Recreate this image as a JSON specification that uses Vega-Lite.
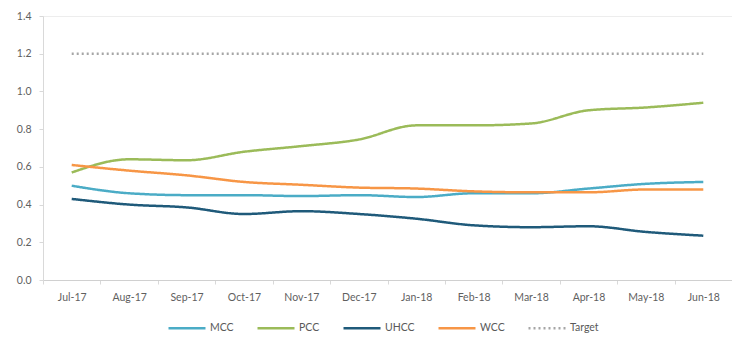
{
  "$schema": "https://vega.github.io/schema/vega-lite/v6.json",
  "autosize": {"type": "none"},
  "width": 689,
  "height": 264,
  "padding": {"left": 43, "top": 16, "right": 0, "bottom": 62},
  "background": "white",
  "config": {
    "view": {"stroke": "#ededed", "strokeWidth": 1},
    "font": "Lato",
    "axis": {"labelFont": "Lato", "labelColor": "#5f5f5f", "labelFontSize": 10.5, "domainColor": "#d9d9d9", "tickColor": "#d9d9d9", "grid": false, "title": null},
    "legend": {"labelFont": "Lato", "labelColor": "#595959", "labelFontSize": 10.5}
  },
  "data": {
    "values": [
      {"month": "Jul-17", "series": "MCC", "value": 0.50},
      {"month": "Aug-17", "series": "MCC", "value": 0.46},
      {"month": "Sep-17", "series": "MCC", "value": 0.45},
      {"month": "Oct-17", "series": "MCC", "value": 0.45},
      {"month": "Nov-17", "series": "MCC", "value": 0.445},
      {"month": "Dec-17", "series": "MCC", "value": 0.45},
      {"month": "Jan-18", "series": "MCC", "value": 0.44},
      {"month": "Feb-18", "series": "MCC", "value": 0.46},
      {"month": "Mar-18", "series": "MCC", "value": 0.46},
      {"month": "Apr-18", "series": "MCC", "value": 0.485},
      {"month": "May-18", "series": "MCC", "value": 0.51},
      {"month": "Jun-18", "series": "MCC", "value": 0.52},
      {"month": "Jul-17", "series": "PCC", "value": 0.57},
      {"month": "Aug-17", "series": "PCC", "value": 0.64},
      {"month": "Sep-17", "series": "PCC", "value": 0.635},
      {"month": "Oct-17", "series": "PCC", "value": 0.68},
      {"month": "Nov-17", "series": "PCC", "value": 0.71},
      {"month": "Dec-17", "series": "PCC", "value": 0.745},
      {"month": "Jan-18", "series": "PCC", "value": 0.82},
      {"month": "Feb-18", "series": "PCC", "value": 0.82},
      {"month": "Mar-18", "series": "PCC", "value": 0.83},
      {"month": "Apr-18", "series": "PCC", "value": 0.90},
      {"month": "May-18", "series": "PCC", "value": 0.915},
      {"month": "Jun-18", "series": "PCC", "value": 0.94},
      {"month": "Jul-17", "series": "UHCC", "value": 0.43},
      {"month": "Aug-17", "series": "UHCC", "value": 0.40},
      {"month": "Sep-17", "series": "UHCC", "value": 0.385},
      {"month": "Oct-17", "series": "UHCC", "value": 0.35},
      {"month": "Nov-17", "series": "UHCC", "value": 0.365},
      {"month": "Dec-17", "series": "UHCC", "value": 0.35},
      {"month": "Jan-18", "series": "UHCC", "value": 0.325},
      {"month": "Feb-18", "series": "UHCC", "value": 0.29},
      {"month": "Mar-18", "series": "UHCC", "value": 0.28},
      {"month": "Apr-18", "series": "UHCC", "value": 0.285},
      {"month": "May-18", "series": "UHCC", "value": 0.255},
      {"month": "Jun-18", "series": "UHCC", "value": 0.235},
      {"month": "Jul-17", "series": "WCC", "value": 0.61},
      {"month": "Aug-17", "series": "WCC", "value": 0.58},
      {"month": "Sep-17", "series": "WCC", "value": 0.555},
      {"month": "Oct-17", "series": "WCC", "value": 0.52},
      {"month": "Nov-17", "series": "WCC", "value": 0.505},
      {"month": "Dec-17", "series": "WCC", "value": 0.49},
      {"month": "Jan-18", "series": "WCC", "value": 0.485},
      {"month": "Feb-18", "series": "WCC", "value": 0.47},
      {"month": "Mar-18", "series": "WCC", "value": 0.465},
      {"month": "Apr-18", "series": "WCC", "value": 0.465},
      {"month": "May-18", "series": "WCC", "value": 0.48},
      {"month": "Jun-18", "series": "WCC", "value": 0.48},
      {"month": "Jul-17", "series": "Target", "value": 1.2},
      {"month": "Aug-17", "series": "Target", "value": 1.2},
      {"month": "Sep-17", "series": "Target", "value": 1.2},
      {"month": "Oct-17", "series": "Target", "value": 1.2},
      {"month": "Nov-17", "series": "Target", "value": 1.2},
      {"month": "Dec-17", "series": "Target", "value": 1.2},
      {"month": "Jan-18", "series": "Target", "value": 1.2},
      {"month": "Feb-18", "series": "Target", "value": 1.2},
      {"month": "Mar-18", "series": "Target", "value": 1.2},
      {"month": "Apr-18", "series": "Target", "value": 1.2},
      {"month": "May-18", "series": "Target", "value": 1.2},
      {"month": "Jun-18", "series": "Target", "value": 1.2}
    ]
  },
  "mark": {"type": "line", "interpolate": "monotone", "strokeWidth": 2.5},
  "encoding": {
    "x": {
      "field": "month", "type": "ordinal", "sort": null,
      "bandPosition": 0.5,
      "scale": {"type": "band", "paddingInner": 0, "paddingOuter": 0},
      "axis": {"labelAngle": 0, "tickBand": "extent", "tickSize": 4, "labelPadding": 8, "domainColor": "#d0d0d0"}
    },
    "y": {
      "field": "value", "type": "quantitative",
      "scale": {"domain": [0, 1.4], "nice": false},
      "axis": {"values": [0, 0.2, 0.4, 0.6, 0.8, 1.0, 1.2, 1.4], "format": ".1f", "tickSize": 4, "labelPadding": 8}
    },
    "color": {
      "field": "series", "type": "nominal",
      "scale": {"domain": ["MCC", "PCC", "UHCC", "WCC", "Target"], "range": ["#4bacc6", "#9bbb59", "#1f5a7a", "#f79646", "#a6a6a6"]},
      "legend": {"title": null, "orient": "none", "legendX": 124, "legendY": 292, "direction": "horizontal", "symbolType": "stroke", "symbolSize": 1369, "symbolStrokeWidth": 2.5, "labelOffset": 3, "columnPadding": 18}
    },
    "strokeDash": {
      "field": "series", "type": "nominal",
      "scale": {"domain": ["MCC", "PCC", "UHCC", "WCC", "Target"], "range": [[1, 0], [1, 0], [1, 0], [1, 0], [2, 3]]},
      "legend": {"title": null, "orient": "none", "legendX": 124, "legendY": 292, "direction": "horizontal", "symbolType": "stroke", "symbolSize": 1369, "symbolStrokeWidth": 2.5, "labelOffset": 3, "columnPadding": 18}
    }
  }
}
